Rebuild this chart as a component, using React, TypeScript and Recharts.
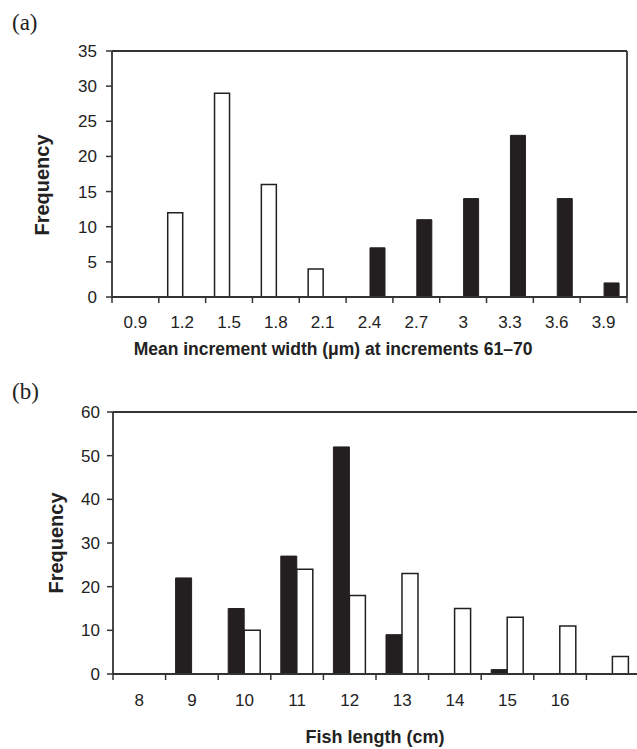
import React from 'react';
import { BarChart, Bar, XAxis, YAxis } from 'recharts';

// ---- Panel (a) data ----
const catsA = ['0.9', '1.2', '1.5', '1.8', '2.1', '2.4', '2.7', '3', '3.3', '3.6', '3.9'];
const whiteA = [0, 12, 29, 16, 4, 0, 0, 0, 0, 0, 0];
const blackA = [0, 0, 0, 0, 0, 7, 11, 14, 23, 14, 2];
const yTicksA = [0, 5, 10, 15, 20, 25, 30, 35];

// ---- Panel (b) data ----
const catsB = ['8', '9', '10', '11', '12', '13', '14', '15', '16', ''];
const blackB = [0, 22, 15, 27, 52, 9, 0, 1, 0, 0];
const whiteB = [0, 0, 10, 24, 18, 23, 15, 13, 11, 4];
const yTicksB = [0, 10, 20, 30, 40, 50, 60];

const FONT = '"Liberation Sans", Arial, Helvetica, sans-serif';
const SERIF = '"Liberation Serif", "Times New Roman", serif';
const INK = '#231f20';
const AXIS = '#333333';

type PanelProps = {
  cats: string[];
  white: number[];
  black: number[];
  yTicks: number[];
  whiteFirst: boolean;
  width: number;
  height: number;
  margin: { top: number; right: number; bottom: number; left: number };
  yAxisWidth: number;
  yTickMargin: number;
  labelGap: number;
};

function makeCatTick(count: number, labelGap: number) {
  return function CatTick(props: any) {
    const { x, y, payload } = props;
    const half = payload && typeof payload.offset === 'number' ? payload.offset : 0;
    const isLast = payload && payload.index === count - 1;
    return (
      <g>
        <line x1={x - half} x2={x - half} y1={y} y2={y + 6} stroke={AXIS} strokeWidth={1.5} />
        {isLast ? (
          <line x1={x + half} x2={x + half} y1={y} y2={y + 6} stroke={AXIS} strokeWidth={1.5} />
        ) : null}
        <text
          x={x}
          y={y + labelGap}
          dy="0.71em"
          textAnchor="middle"
          fill="#222"
          fontSize={17}
          fontFamily={FONT}
        >
          {payload ? payload.value : ''}
        </text>
      </g>
    );
  };
}

function Panel(p: PanelProps) {
  const data = p.cats.map((c, i) => ({ cat: c, white: p.white[i], black: p.black[i] }));
  const yMax = p.yTicks[p.yTicks.length - 1];
  const whiteBar = (
    <Bar
      key="w"
      dataKey="white"
      xAxisId="cat"
      yAxisId="val"
      fill="#ffffff"
      stroke={INK}
      strokeWidth={1.5}
      isAnimationActive={false}
    />
  );
  const blackBar = (
    <Bar
      key="b"
      dataKey="black"
      xAxisId="cat"
      yAxisId="val"
      fill={INK}
      stroke={INK}
      strokeWidth={1}
      isAnimationActive={false}
    />
  );
  return (
    <BarChart
      width={p.width}
      height={p.height}
      data={data}
      margin={p.margin}
      barCategoryGap="19%"
      barGap={0}
    >
      <XAxis
        xAxisId="cat"
        dataKey="cat"
        type="category"
        interval={0}
        axisLine={{ stroke: AXIS, strokeWidth: 1.8 }}
        tickLine={false}
        tickSize={0}
        tickMargin={0}
        height={40}
        tick={makeCatTick(p.cats.length, p.labelGap)}
      />
      <XAxis
        xAxisId="top"
        orientation="top"
        type="number"
        domain={[0, 1]}
        ticks={[0]}
        tick={false}
        tickLine={false}
        axisLine={{ stroke: AXIS, strokeWidth: 1.8 }}
        height={1}
      />
      <YAxis
        yAxisId="val"
        type="number"
        domain={[0, yMax]}
        ticks={p.yTicks}
        interval={0}
        width={p.yAxisWidth}
        tickSize={6}
        tickMargin={p.yTickMargin}
        tickLine={{ stroke: AXIS, strokeWidth: 1.5 }}
        axisLine={{ stroke: AXIS, strokeWidth: 1.8 }}
        tick={{ fill: '#222', fontSize: 17, fontFamily: FONT }}
      />
      <YAxis
        yAxisId="right"
        orientation="right"
        type="number"
        domain={[0, 1]}
        ticks={[0]}
        tick={false}
        tickLine={false}
        axisLine={{ stroke: AXIS, strokeWidth: 1.8 }}
        width={1}
      />
      {p.whiteFirst ? [whiteBar, blackBar] : [blackBar, whiteBar]}
    </BarChart>
  );
}

const abs = (s: React.CSSProperties): React.CSSProperties => ({ position: 'absolute', ...s });

export default function App() {
  return (
    <div
      style={abs({
        left: 0,
        top: 0,
        width: 637,
        height: 749,
        overflow: 'hidden',
        background: '#fff',
        fontFamily: FONT,
        color: '#222',
      })}
    >
      <div style={abs({ left: 0, top: 0 })}>
        <Panel
          cats={catsA}
          white={whiteA}
          black={blackA}
          yTicks={yTicksA}
          whiteFirst={true}
          width={637}
          height={340}
          margin={{ top: 50, right: 9, bottom: 3, left: 0 }}
          yAxisWidth={112}
          yTickMargin={9}
          labelGap={19}
        />
      </div>
      <div style={abs({ left: 0, top: 360 })}>
        <Panel
          cats={catsB}
          white={whiteB}
          black={blackB}
          yTicks={yTicksB}
          whiteFirst={false}
          width={645}
          height={360}
          margin={{ top: 51, right: 5, bottom: 6, left: 0 }}
          yAxisWidth={113}
          yTickMargin={7}
          labelGap={20}
        />
      </div>

      {/* panel letters */}
      <div style={abs({ left: 12, top: 11, fontFamily: SERIF, fontSize: 23, lineHeight: '23px', color: '#222' })}>(a)</div>
      <div style={abs({ left: 12, top: 380, fontFamily: SERIF, fontSize: 23, lineHeight: '23px', color: '#222' })}>(b)</div>

      {/* y titles */}
      <div
        style={abs({
          left: 42,
          top: 185,
          transform: 'translate(-50%, -50%) rotate(-90deg)',
          fontWeight: 'bold',
          fontSize: 20,
          whiteSpace: 'nowrap',
          lineHeight: '22px',
        })}
      >
        Frequency
      </div>
      <div
        style={abs({
          left: 56,
          top: 543,
          transform: 'translate(-50%, -50%) rotate(-90deg)',
          fontWeight: 'bold',
          fontSize: 20,
          whiteSpace: 'nowrap',
          lineHeight: '22px',
        })}
      >
        Frequency
      </div>

      {/* x titles */}
      <div
        style={abs({
          left: 333,
          top: 339,
          transform: 'translateX(-50%)',
          fontWeight: 'bold',
          fontSize: 17.5,
          whiteSpace: 'nowrap',
          lineHeight: '20px',
        })}
      >
        Mean increment width (μm) at increments 61–70
      </div>
      <div
        style={abs({
          left: 375,
          top: 727,
          transform: 'translateX(-50%)',
          fontWeight: 'bold',
          fontSize: 18,
          whiteSpace: 'nowrap',
          lineHeight: '20px',
        })}
      >
        Fish length (cm)
      </div>
    </div>
  );
}
